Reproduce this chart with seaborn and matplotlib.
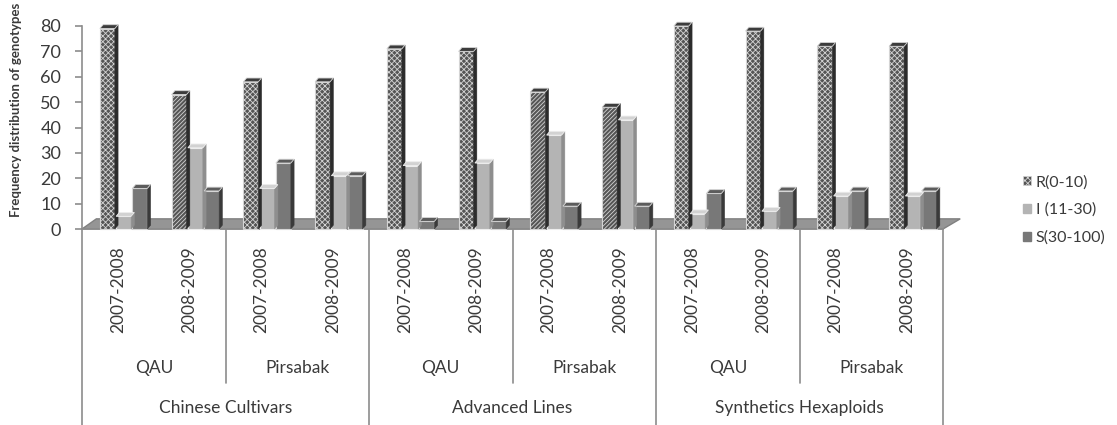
import numpy as np
import pandas as pd
import seaborn as sns
import matplotlib.pyplot as plt
from matplotlib.patches import Polygon, Patch

# -------------------------------
# Data
# -------------------------------
groups = ["Chinese Cultivars", "Advanced Lines", "Synthetics Hexaploids"]
locations = ["QAU", "Pirsabak"]
seasons = ["2007-2008", "2008-2009"]
series = ["R(0-10)", "I (11-30)", "S(30-100)"]

r_vals = [79, 53, 58, 58, 71, 70, 54, 48, 80, 78, 72, 72]
i_vals = [5, 32, 16, 21, 25, 26, 37, 43, 6, 7, 13, 13]
s_vals = [16, 15, 26, 21, 3, 3, 9, 9, 14, 15, 15, 15]

# which R bars use the diagonal pattern instead of the dotted one
r_diag = [False, True, False, False, False, False, True, True, False, False, False, False]

# -------------------------------
# Long-form table for seaborn
# -------------------------------
slots = [f"{g}|{l}|{s}" for g in groups for l in locations for s in seasons]
rows = []
for name, vals in zip(series, [r_vals, i_vals, s_vals]):
    for slot, v in zip(slots, vals):
        rows.append({"slot": slot, "series": name, "value": v})
df = pd.DataFrame(rows)

# -------------------------------
# Style
# -------------------------------
sns.set_style("white")
plt.rcParams["font.family"] = ["Lato", "DejaVu Sans"]
plt.rcParams["hatch.linewidth"] = 0.6
txt_col = "#3a3a3a"
line_col = "#8c8c8c"

face_cols = ["#555555", "#b4b4b4", "#787878"]
edge_cols = ["#d4d4d4", "#ededed", "#d6d6d6"]
side_cols = ["#2c2c2c", "#8e8e8e", "#3a3a3a"]
top_cols = ["#3c3c3c", "#d2d2d2", "#5c5c5c"]

fig = plt.figure(figsize=(11.17, 4.25), dpi=100)
ax = fig.add_axes([82 / 1117, 1 - 229 / 425, 861 / 1117, 203 / 425])

sns.barplot(data=df, x="slot", y="value", hue="series", hue_order=series,
            palette=face_cols, width=0.68, gap=0.08, legend=False, ax=ax,
            zorder=3)

ax.set_xlim(-0.5, len(slots) - 0.5)
ax.set_ylim(0, 80)

# floor of the 3D chart
n = len(slots)
floor = Polygon([(-0.5, 0), (n - 0.5, 0), (n - 0.5 + 0.24, 4.0), (-0.5 + 0.2, 4.0)],
                closed=True, facecolor="#959595", edgecolor="#808080", lw=1,
                zorder=1, clip_on=False)
ax.add_patch(floor)

# bars: pattern, 3D side and top faces
dx, dy = 0.045, 1.5
for k, cont in enumerate(ax.containers):
    for j, bar in enumerate(cont):
        bar.set_x(bar.get_x() + 0.08)
        bar.set_edgecolor(edge_cols[k])
        bar.set_linewidth(0.8)
        bar.set_clip_on(False)
        if k == 0:
            bar.set_hatch("////////" if r_diag[j] else "xxxxxx")
        x0 = bar.get_x()
        x1 = x0 + bar.get_width()
        h = bar.get_height()
        side = Polygon([(x1, 0), (x1 + dx, dy), (x1 + dx, h + dy), (x1, h)],
                       closed=True, facecolor=side_cols[k], edgecolor=side_cols[k],
                       lw=0.4, zorder=3, clip_on=False)
        top = Polygon([(x0, h), (x0 + dx, h + dy), (x1 + dx, h + dy), (x1, h)],
                      closed=True, facecolor=top_cols[k], edgecolor=edge_cols[k],
                      lw=0.6, zorder=3, clip_on=False)
        ax.add_patch(side)
        ax.add_patch(top)

# axes
for sp in ["top", "right"]:
    ax.spines[sp].set_visible(False)
ax.spines["left"].set_color(line_col)
ax.spines["left"].set_linewidth(1.2)
ax.spines["bottom"].set_color(line_col)
ax.spines["bottom"].set_linewidth(1.2)
ax.set_yticks(range(0, 81, 10))
ax.tick_params(axis="y", length=5, width=1.2, color=line_col, pad=10,
               labelsize=13, labelcolor=txt_col, left=True)
ax.set_xticks([])
ax.set_xlabel("")
ax.set_ylabel("")

# hierarchical category labels below the floor
tr = ax.get_xaxis_transform()
for b in [-0.5, 3.5, 7.5, 11.5]:
    ax.plot([b, b], [0, -0.97], transform=tr, color=line_col, lw=1.2, clip_on=False)
for b in [1.5, 5.5, 9.5]:
    ax.plot([b, b], [0, -0.76], transform=tr, color=line_col, lw=1.2, clip_on=False)

for i, slot in enumerate(slots):
    ax.text(i, -0.30, slot.split("|")[2], transform=tr, rotation=90,
            ha="center", va="center", fontsize=12.5, color=txt_col)
for i in range(len(groups) * len(locations)):
    ax.text(2 * i + 0.5, -0.685, locations[i % 2], transform=tr,
            ha="center", va="center", fontsize=12.5, color=txt_col)
for i, g in enumerate(groups):
    ax.text(4 * i + 1.5, -0.88, g, transform=tr,
            ha="center", va="center", fontsize=12.5, color=txt_col)

fig.text(16 / 1117, 1 - 110 / 425, "Frequency distribution of genotypes",
         rotation=90, ha="center", va="center", fontsize=9.5,
         fontweight="bold", color=txt_col)

# legend
handles = [
    Patch(facecolor=face_cols[0], edgecolor=edge_cols[0], hatch="xxxxxx", lw=0.5),
    Patch(facecolor=face_cols[1], edgecolor=face_cols[1]),
    Patch(facecolor=face_cols[2], edgecolor=face_cols[2]),
]
fig.legend(handles, series, loc="center left",
           bbox_to_anchor=(1020 / 1117, 1 - 210 / 425), frameon=False,
           handlelength=0.5, handleheight=0.5, handletextpad=0.3,
           labelspacing=0.85, fontsize=11.5, labelcolor=txt_col,
           borderaxespad=0, borderpad=0.2)

plt.savefig("out.png", dpi=100)
plt.close()
